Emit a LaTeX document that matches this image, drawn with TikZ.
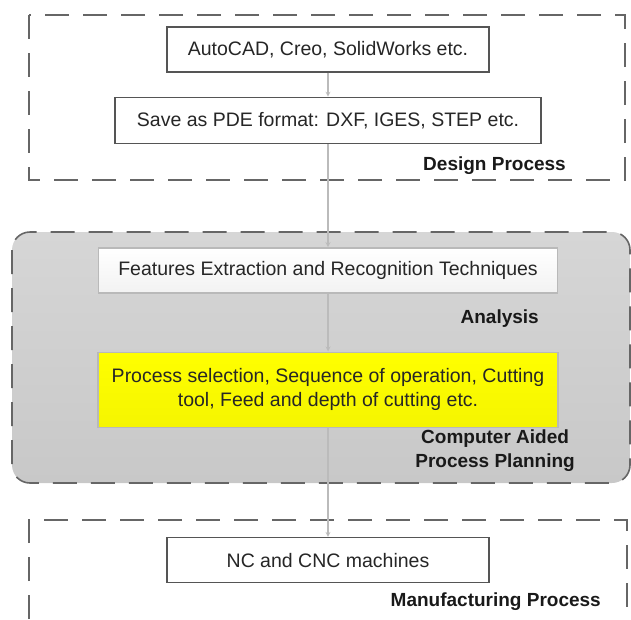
\documentclass[tikz,border=0pt]{standalone}
\usepackage{fontspec}
\setmainfont{Liberation Sans}
\usepackage{tikz}
\usetikzlibrary{positioning, arrows, calc}

\definecolor{frameline}{HTML}{666666}
\definecolor{boxline}{HTML}{555555}
\definecolor{linkline}{HTML}{BBBBBB}
\definecolor{cappTop}{HTML}{D6D6D6}
\definecolor{cappBottom}{HTML}{C8C8C8}
\definecolor{hiyellow}{HTML}{FFFF00}

\tikzset{
  box/.style={draw=boxline, line width=1.4pt, fill=white, minimum height=45pt,
    inner sep=0pt, text=black!85},
  frame/.style={draw=frameline, line width=1.6pt, dash pattern=on 24pt off 14pt},
  tag/.style={font=\fontsize{19}{24}\selectfont\bfseries, anchor=east, inner sep=0pt,
    align=center, text=black!90},
}

\begin{document}
\begin{tikzpicture}[x=1pt, y=1pt, font=\fontsize{19.5}{24}\selectfont, >=stealth]
    \useasboundingbox (0,0) rectangle (631,-619);

    % group frames
    \draw[frame] (29,-15) rectangle (625,-180);
    \draw[frame, rounded corners=18pt, top color=cappTop, bottom color=cappBottom]
        (12,-232) rectangle (630,-483);
    \draw[frame] (29,-619) -- (29,-520) -- (627,-520) -- (627,-619);

    \node[box, minimum width=322pt] (cad) at (328,-49.5) {AutoCAD, Creo, SolidWorks etc.};
    \node[box, minimum width=426pt, minimum height=46pt] (pde) [below=24pt of cad]
        {Save as PDE format: DXF, IGES, STEP etc.};
    \node[box, minimum width=459pt, draw=gray!55, top color=white, bottom color=gray!10]
        (fer) [below=103pt of pde] {Features Extraction and Recognition Techniques};
    \node[box, minimum width=460pt, minimum height=75pt, align=center, draw=gray!55,
        top color=hiyellow, bottom color=hiyellow!96!black] (plan) [below=58pt of fer]
        {Process selection, Sequence of operation, Cutting\\tool, Feed and depth of cutting etc.};
    \node[box, minimum width=322pt] (cnc) [below=109pt of plan] {NC and CNC machines};

    \node[tag] (design) at (566,-166) {Design Process};
    \node[tag] (analysis) at (539,-319) {Analysis};
    \node[tag] (capp) at (575,-451) {Computer Aided\\Process Planning};
    \node[tag] (manuf) at (601,-602) {Manufacturing Process};

    \path[->, color=linkline, line width=1.2pt]
    (cad) edge (pde)
    (pde) edge (fer)
    (fer) edge (plan)
    (plan) edge (cnc)
    ;
\end{tikzpicture}
\end{document}
